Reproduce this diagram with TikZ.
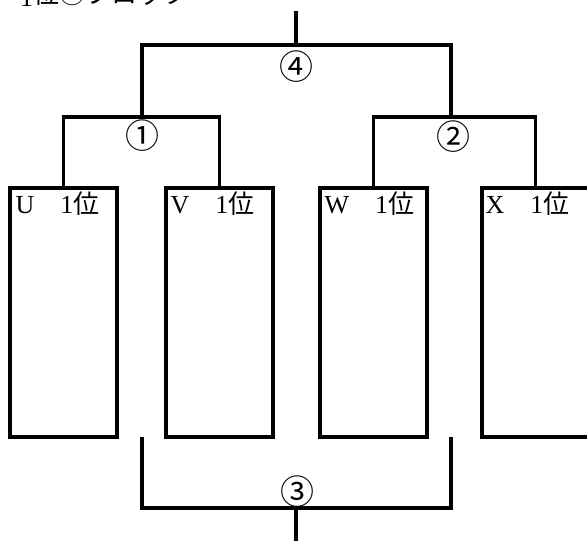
\documentclass[tikz,border=0pt]{standalone}
\usepackage{fontspec}
\setmainfont{Liberation Serif}
\newfontfamily\cjk{Noto Sans CJK JP}
\begin{document}
\begin{tikzpicture}[x=1pt,y=1pt,
  line/.style={line width=3.2pt},
  entry/.style={draw,line width=3.2pt,minimum width=107pt,minimum height=249pt,inner sep=0pt},
  lbl/.style={anchor=base west,inner sep=0pt,font=\fontsize{26}{26}\selectfont},
  num/.style={inner sep=0pt,font=\cjk\fontsize{34}{34}\selectfont}]
\useasboundingbox (0,0) rectangle (587,541);
% title (mostly cut off at the top edge)
\node[lbl] (title) at (20,534) {1\raisebox{3pt}{\cjk 位①ブロック}};
% boxes
\node[entry] (U) at (63.5,228.5) {};
\node[entry] (V) at (219.5,228.5) {};
\node[entry] (W) at (373.5,228.5) {};
\node[entry] (X) at (535.5,228.5) {};
% labels in boxes
\node[lbl] (lu) at ([xshift=7pt,yshift=-27pt]U.north west) {U\hspace{1em}1{\cjk 位}};
\node[lbl] (lv) at ([xshift=6pt,yshift=-27pt]V.north west) {V\hspace{1em}1{\cjk 位}};
\node[lbl] (lw) at ([xshift=6pt,yshift=-27pt]W.north west) {W\hspace{1em}1{\cjk 位}};
\node[lbl] (lx) at ([xshift=5pt,yshift=-27pt]X.north west) {X\hspace{1em}1{\cjk 位}};
% junctions
\coordinate (top) at (296,530);
\coordinate (j4) at (296,496);
\coordinate (j1) at (142,424);
\coordinate (j2) at (451,424);
\coordinate (b1) at (142,104);
\coordinate (b2) at (451,104);
\coordinate (j3) at (296,33);
\coordinate (bot) at (296,-2);
% brackets
\draw[line] (top) -- (j4);
\draw[line] (j1) |- (j4) -| (j2);
\draw[line] (U.north) |- (j1) -| (V.north);
\draw[line] (W.north) |- (j2) -| (X.north);
\draw[line] (b1) |- (j3) -| (b2);
\draw[line] (j3) -- (bot);
% match numbers
\node[num] (n4) at (296,474) {④};
\node[num] (n1) at (142,405) {①};
\node[num] (n2) at (453,404) {②};
\node[num] (n3) at (297,49) {③};
\end{tikzpicture}
\end{document}
